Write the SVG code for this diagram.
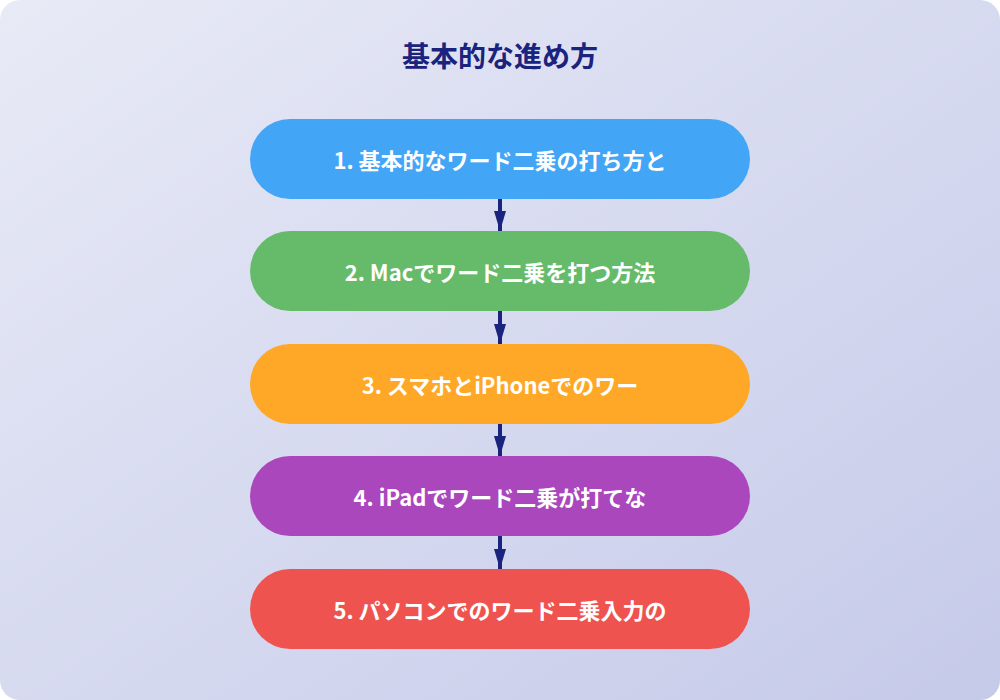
<svg xmlns="http://www.w3.org/2000/svg" width="1000" height="700" viewBox="0 0 1000 700">
<defs>
<linearGradient id="bg" x1="0" y1="0" x2="1" y2="1"><stop offset="0" stop-color="#e8eaf6"/><stop offset="1" stop-color="#c5cae9"/></linearGradient>
<marker id="ah" viewBox="0 0 10 6" refX="10" refY="3" markerWidth="5" markerHeight="5" markerUnits="strokeWidth" orient="auto"><path d="M0,0 L10,3 L0,6 Z" fill="#1a237e"/></marker>
</defs>
<style>
.t{font-family:"Noto Sans CJK JP","Noto Sans",sans-serif;font-weight:bold;fill:#fff;font-size:22px;text-anchor:middle;dominant-baseline:central}
.c{stroke:#1a237e;stroke-width:4;fill:none;marker-end:url(#ah)}
</style>
<rect width="1000" height="700" rx="20" fill="url(#bg)"/>
<text x="500" y="55" font-family="Noto Sans CJK JP,sans-serif" font-weight="bold" font-size="28" fill="#1a237e" text-anchor="middle" dominant-baseline="central">基本的な進め方</text>
<g id="connectors">
<line class="c" x1="500" y1="199" x2="500" y2="231"/>
<line class="c" x1="500" y1="311" x2="500" y2="344"/>
<line class="c" x1="500" y1="424" x2="500" y2="456"/>
<line class="c" x1="500" y1="536" x2="500" y2="569"/>
</g>
<g id="n1"><rect x="250" y="119" width="500" height="80" rx="40" fill="#42a5f5"/><text class="t" x="500" y="159">1. 基本的なワード二乗の打ち方と</text></g>
<g id="n2"><rect x="250" y="231" width="500" height="80" rx="40" fill="#66bb6a"/><text class="t" x="500" y="271">2. Macでワード二乗を打つ方法</text></g>
<g id="n3"><rect x="250" y="344" width="500" height="80" rx="40" fill="#ffa726"/><text class="t" x="500" y="384">3. スマホとiPhoneでのワー</text></g>
<g id="n4"><rect x="250" y="456" width="500" height="80" rx="40" fill="#ab47bc"/><text class="t" x="500" y="496">4. iPadでワード二乗が打てな</text></g>
<g id="n5"><rect x="250" y="569" width="500" height="80" rx="40" fill="#ef5350"/><text class="t" x="500" y="609">5. パソコンでのワード二乗入力の</text></g>
</svg>
